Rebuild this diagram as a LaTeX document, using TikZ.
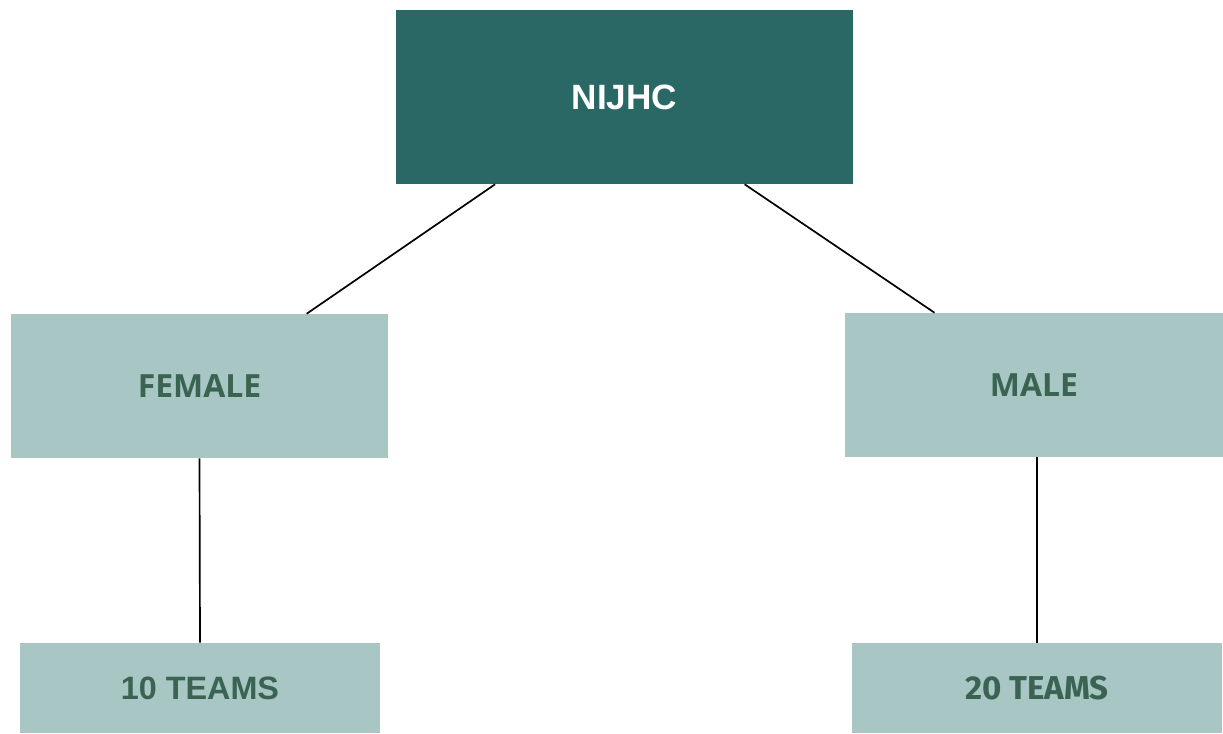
\documentclass[tikz,border=0pt]{standalone}
\usepackage{fontspec}
\setmainfont{Liberation Sans}
\newfontfamily\opensans{Open Sans}
\newfontfamily\firasans{Fira Sans}
\usetikzlibrary{positioning}

\definecolor{tealdark}{HTML}{2A6866}
\definecolor{teallight}{HTML}{A7C6C4}
\definecolor{greentext}{HTML}{3A6351}

\tikzset{
  topbox/.style={fill=tealdark, text=white, inner sep=0pt,
    font=\fontsize{25}{30}\selectfont\bfseries},
  subbox/.style={fill=teallight, text=greentext, inner sep=0pt},
  link/.style={draw=black, line width=1.2pt}
}

\begin{document}
\begin{tikzpicture}[x=0.025cm, y=-0.025cm]
  \useasboundingbox (0,0) rectangle (1223,733);

  \node[topbox, minimum width=11.425cm, minimum height=4.35cm] (nijhc) at (624.5,97) {NIJHC};

  \node[subbox, minimum width=9.425cm, minimum height=3.6cm,
        font=\opensans\fontsize{22.7}{27}\selectfont\bfseries] (female) at (199.5,386) {FEMALE};
  \node[subbox, minimum width=9.45cm, minimum height=3.6cm,
        font=\opensans\fontsize{22.7}{27}\selectfont\bfseries] (male) at (1034,385) {MALE};

  \node[subbox, minimum width=9cm, minimum height=2.25cm,
        font=\fontsize{23}{28}\selectfont\bfseries] (teams-10) at (200,688) {10 TEAMS};
  \node[subbox, minimum width=9.25cm, minimum height=2.25cm,
        font=\firasans\fontsize{23.5}{28}\selectfont\bfseries] (teams-20) at (1037,688) {20 TEAMS};

  \path[link]
  (nijhc.214.3) edge (female.34.06);
  \path[link]
  (nijhc.324.8) edge (male.144.25);
  \path[link]
  (female.south) edge (teams-10.north);
  \path[link]
  (male.south -| teams-20.north) edge (teams-20.north);

\end{tikzpicture}
\end{document}
